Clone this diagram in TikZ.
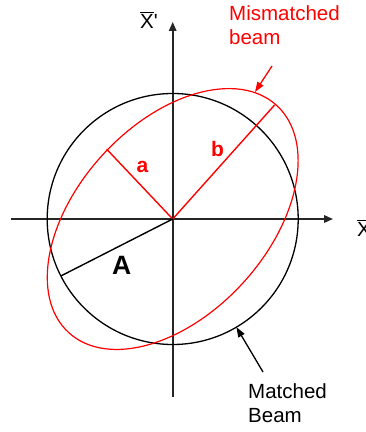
\documentclass[tikz,border=0pt]{standalone}
\usepackage{fontspec}
\setmainfont{Liberation Sans}
\usetikzlibrary{arrows.meta,calc}
\newcommand\barX{\leavevmode\vbox{\hrule height 1.2pt\kern 1.6pt\hbox{X}}}
\tikzset{
  axisline/.style={line width=1.6pt, draw=black!85},
  axtip/.style={-{Triangle[length=9pt,width=7.5pt]}},
  redline/.style={line width=1.4pt, draw=red},
  lbl/.style={inner sep=0pt, font=\fontsize{20.5}{24.5}\selectfont},
  pointer/.style={line width=1.3pt, -{Triangle[length=10pt,width=7pt]}}
}
\begin{document}
\begin{tikzpicture}[x=1pt,y=1pt]
\useasboundingbox (0,0) rectangle (366,432);
\coordinate (C) at (172.7,213);
% axes
\coordinate (xl) at (11,213);
\coordinate (xr) at (333,213);
\coordinate (yb) at (172.7,35);
\coordinate (yt) at (172.7,410);
\draw[axisline, axtip] (xl) -- (xr);
\draw[axisline, axtip] (yb) -- (yt);
% matched beam circle
\draw[line width=1.3pt, black] (C) circle[radius=125.5];
% mismatched ellipse
\draw[line width=1.2pt, red, rotate around={47.5:(C)}] (C) ellipse[x radius=154, y radius=95];
% radii
\coordinate (aend) at ($(C)+(133.4:96)$);
\coordinate (bend) at ($(C)+(48.2:153)$);
\coordinate (Aend) at ($(C)+(207:125.5)$);
\draw[redline] (C) -- (aend);
\draw[redline] (C) -- (bend);
\draw[line width=1.4pt, black] (C) -- (Aend);
% labels
\node[lbl, text=red, font=\fontsize{21}{24}\selectfont\bfseries] (la) at (142.5,265) {a};
\node[lbl, text=red, font=\fontsize{21}{24}\selectfont\bfseries] (lb) at (217.5,283) {b};
\node[lbl, font=\fontsize{26.5}{30}\selectfont\bfseries] (lA) at (121.7,166.3) {A};
\node[lbl, anchor=base west] (xp) at (140,403) {\barX\textquotesingle};
\node[lbl, anchor=base west] (xx) at (357,195) {\barX};
% mismatched beam label
\node[lbl, text=red, anchor=north west, align=left] (mis) at (229,427) {Mismatched\\beam};
\coordinate (misS) at (272,366);
\coordinate (misT) at (255,340);
\draw[pointer, red] (misS) -- (misT);
% matched beam label
\node[lbl, anchor=north west, align=left] (mat) at (248,49) {Matched\\Beam};
\coordinate (matS) at (263,60);
\coordinate (matT) at ($(C)+(-59.5:125.5)$);
\draw[pointer, black] (matS) -- (matT);
\end{tikzpicture}
\end{document}
